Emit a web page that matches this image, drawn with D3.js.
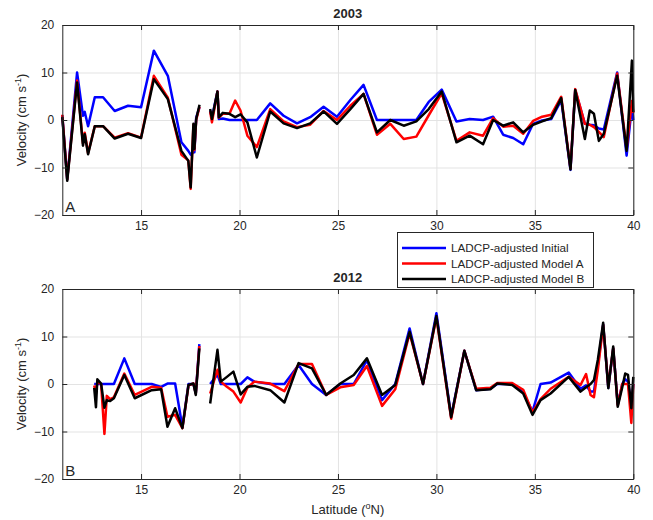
<!DOCTYPE html>
<html><head><meta charset="utf-8">
<script src="https://cdn.jsdelivr.net/npm/d3@7"></script>
<style>
body{margin:0;background:#fff}
svg{display:block}
text{font-family:"Liberation Sans",Arial,Helvetica,sans-serif;fill:#262626}
</style>
</head><body><div id="chart"></div>
<script>
// ---------- DATA ----------
const seriesNames = ["LADCP-adjusted Initial", "LADCP-adjusted Model A", "LADCP-adjusted Model B"];
const seriesColors = ["#0000ff", "#ff0000", "#000000"];
const yTicks = [-20, -10, 0, 10, 20];
const xTicks = [15, 20, 25, 30, 35, 40];

const lat2003 = [11.0,11.25,11.75,12.05,12.14,12.31,12.65,13.07,13.66,14.34,15.0,15.65,16.36,17.05,17.40,17.52,17.66,17.71,17.80,17.97,18.25,
  18.51,18.60,18.88,18.95,19.15,19.49,19.78,20.05,20.40,20.88,21.56,22.24,22.92,23.59,24.27,24.95,25.63,26.30,26.98,27.66,28.34,28.98,29.61,30.27,
  31.02,31.69,32.37,32.88,33.39,33.90,34.41,34.91,35.37,35.83,36.34,36.81,37.05,37.54,37.79,38.00,38.25,38.50,39.18,39.66,39.93,40.00];
const initial2003 = [1.0,-12.5,10.0,0.9,1.7,-1.3,4.8,4.8,1.9,3.0,2.7,14.6,9.3,-4.7,-6.5,-7.3,-6.8,-6.8,0.5,2.7,null,
  2.0,0.5,6.0,0.2,0.3,0.0,0.0,0.0,0.0,0.0,3.5,0.9,-0.7,0.6,2.8,0.7,4.2,7.4,0.0,0.0,0.0,0.0,3.8,6.4,
  -0.3,0.2,0.0,0.7,-3.1,-3.8,-5.1,-0.8,-0.1,0.2,4.2,-10.5,6.3,-0.8,-1.0,-1.1,-1.8,-2.0,10.0,-7.5,3.0,0.0];
const modelA2003 = [1.1,-12.5,8.3,-5.0,-2.7,-7.0,-1.3,-1.3,-3.7,-2.8,-3.7,9.3,4.7,-7.3,-8.5,-14.5,-1.0,-6.3,0.0,2.8,null,
  1.8,-0.5,6.0,0.5,1.3,1.3,4.1,2.0,-3.3,-5.7,2.3,-0.3,-1.5,-1.0,1.9,0.0,3.0,5.5,-3.1,-0.8,-4.0,-3.5,1.0,5.6,
  -4.4,-2.6,-3.3,0.4,-1.4,-1.2,-2.9,-0.2,0.7,1.1,4.9,-10.2,6.5,-0.8,-1.0,-1.5,-2.5,-3.6,9.8,-6.0,4.0,1.5];
const modelB2003 = [0.6,-12.8,7.9,-5.4,-3.0,-7.2,-1.3,-1.3,-3.9,-2.9,-3.8,8.6,4.4,-6.5,-8.6,-14.2,-0.8,-6.1,0.2,3.2,null,
  2.3,0.2,6.0,0.6,1.5,1.3,0.6,1.2,-0.5,-7.9,1.8,-0.7,-1.7,-0.7,1.8,-0.8,2.3,5.5,-2.6,0.0,-1.2,-0.3,2.3,6.0,
  -4.7,-3.3,-5.1,0.0,-1.2,-0.5,-2.6,-1.0,-0.3,0.4,4.6,-10.4,6.3,-4.0,2.0,1.3,-4.4,-2.9,9.3,-6.5,12.5,1.7];

const lat2012 = [12.62,12.71,12.78,12.97,13.14,13.26,13.43,13.62,14.15,14.68,15.54,16.02,16.34,16.73,17.10,17.41,17.66,17.78,17.96,18.25,
  18.51,18.88,19.05,19.36,19.69,20.06,20.40,20.75,21.56,22.28,23.00,23.68,24.40,25.12,25.80,26.47,27.24,27.91,28.64,29.32,30.00,
  30.75,31.42,32.02,32.74,33.09,33.85,34.41,34.88,35.29,35.80,36.72,37.32,37.60,37.83,38.00,38.20,38.47,38.73,38.98,39.21,39.44,39.59,39.73,39.90,40.00];
const initial2012 = [0.0,0.0,0.0,0.0,0.0,0.0,0.0,0.0,5.4,0.0,0.0,-0.6,0.1,0.1,-9.1,0.0,0.0,-2.0,8.4,null,
  0.0,2.0,0.0,0.0,0.0,0.0,1.4,0.5,0.0,0.0,4.0,0.0,-2.3,0.0,0.0,5.0,-3.4,0.0,11.7,0.0,14.9,
  -6.8,7.0,-1.3,-1.0,0.0,0.0,-1.8,-5.8,0.0,0.3,2.4,-1.0,-0.3,-1.6,-1.6,4.0,12.5,-0.8,7.5,-4.3,0.0,1.0,0.5,-5.0,0.0];
const modelA2012 = [-0.3,-2.0,0.5,0.0,-10.5,-2.5,-3.2,-2.8,2.2,-2.3,-0.6,-0.8,-6.9,-6.5,-9.3,-0.3,0.1,-2.0,8.0,null,
  -2.0,3.0,0.5,-0.6,-1.6,-3.9,-0.8,0.5,0.1,-1.5,4.2,4.2,-2.3,-0.7,-0.2,3.8,-4.6,-1.1,10.7,0.0,14.0,
  -7.3,7.0,-1.0,-0.8,0.2,0.2,-1.2,-6.0,-3.2,-1.0,1.5,-0.2,2.1,-2.3,-2.8,3.0,12.4,-0.5,7.5,-4.5,0.0,0.0,0.0,-8.2,0.0];
const modelB2012 = [-0.8,-4.9,1.0,0.1,-5.0,-3.4,-3.6,-3.0,1.9,-3.0,-1.3,-1.1,-9.0,-5.1,-9.3,-0.2,0.1,-2.3,7.5,null,
  -4.1,7.2,0.5,1.5,2.6,-2.2,-0.6,-0.4,-1.3,-3.9,4.4,3.3,-2.3,0.1,1.9,5.4,-2.3,-0.2,11.0,0.0,14.3,
  -7.0,7.0,-1.3,-1.1,0.1,-0.2,-2.0,-6.5,-3.4,-2.0,1.5,-1.6,-0.7,0.0,0.8,5.1,12.9,-0.9,7.9,-4.8,-0.7,2.2,1.9,-5.1,1.5];

// ---------- LAYOUT ----------
const W = 653, H = 520;
const L = 62.3, R = 633.3;
const panels = [
  {title: "2003", tag: "A", top: 25, bottom: 215, lat: lat2003, series: [initial2003, modelA2003, modelB2003]},
  {title: "2012", tag: "B", top: 289, bottom: 479, lat: lat2012, series: [initial2012, modelA2012, modelB2012]}
];
const axisColor = "#262626";
const gridColor = "#e3e3e3";

const svg = d3.select("#chart").append("svg").attr("width", W).attr("height", H);
svg.append("rect").attr("width", W).attr("height", H).attr("fill", "#fff");

const x = d3.scaleLinear().domain([11, 40]).range([L, R]);

panels.forEach(p => {
  const y = d3.scaleLinear().domain([-20, 20]).range([p.bottom, p.top]);
  const g = svg.append("g");
  const h = p.bottom - p.top, w = R - L;

  // grid
  g.append("g").attr("transform", `translate(0,${p.bottom})`)
    .call(d3.axisBottom(x).tickValues(xTicks).tickSize(-h).tickFormat(""))
    .call(s => { s.select(".domain").remove(); s.selectAll("line").attr("stroke", gridColor).attr("stroke-width", 1); });
  g.append("g").attr("transform", `translate(${L},0)`)
    .call(d3.axisLeft(y).tickValues(yTicks).tickSize(-w).tickFormat(""))
    .call(s => { s.select(".domain").remove(); s.selectAll("line").attr("stroke", gridColor).attr("stroke-width", 1); });

  // lines
  p.series.forEach((vals, i) => {
    const data = p.lat.map((la, k) => ({x: la, y: vals[k]}));
    const line = d3.line().defined(d => d.y !== null).x(d => x(d.x)).y(d => y(d.y));
    g.append("path").datum(data).attr("d", line)
      .attr("fill", "none").attr("stroke", seriesColors[i]).attr("stroke-width", 2.5)
      .attr("stroke-linejoin", "round");
  });

  // axes with inward ticks
  const bottomAx = g.append("g").attr("transform", `translate(0,${p.bottom})`)
    .call(d3.axisBottom(x).tickValues(xTicks).tickSize(-5).tickPadding(6).tickSizeOuter(0));
  const topAx = g.append("g").attr("transform", `translate(0,${p.top})`)
    .call(d3.axisTop(x).tickValues(xTicks).tickSize(-5).tickFormat("").tickSizeOuter(0));
  const leftAx = g.append("g").attr("transform", `translate(${L},0)`)
    .call(d3.axisLeft(y).tickValues(yTicks).tickSize(-5).tickPadding(8).tickSizeOuter(0));
  const rightAx = g.append("g").attr("transform", `translate(${R},0)`)
    .call(d3.axisRight(y).tickValues(yTicks).tickSize(-5).tickFormat("").tickSizeOuter(0));
  [bottomAx, topAx, leftAx, rightAx].forEach(a => {
    a.select(".domain").attr("stroke", axisColor).attr("stroke-width", 1);
    a.selectAll("line").attr("stroke", axisColor);
    a.selectAll("text").attr("font-size", 12).attr("fill", axisColor)
      .style("font-family", '"Liberation Sans",Arial,sans-serif');
  });

  // title
  g.append("text").attr("x", (L + R) / 2).attr("y", p.top - 7).attr("text-anchor", "middle")
    .attr("font-size", 13).attr("font-weight", "bold").attr("fill", "#000").text(p.title);
  // panel tag
  g.append("text").attr("x", L + 3).attr("y", p.bottom - 3).attr("font-size", 15).attr("fill", "#000").text(p.tag);
  // y label
  const yl = g.append("text").attr("transform", `translate(26,${(p.top + p.bottom) / 2}) rotate(-90)`)
    .attr("text-anchor", "middle").attr("font-size", 13).attr("fill", axisColor);
  yl.append("tspan").text("Velocity (cm s");
  yl.append("tspan").attr("font-size", 9).attr("dy", -5).text("-1");
  yl.append("tspan").attr("dy", 5).text(")");
});

// x label
const xl = svg.append("text").attr("x", (L + R) / 2).attr("y", 514).attr("text-anchor", "middle")
  .attr("font-size", 13).attr("fill", axisColor);
xl.append("tspan").text("Latitude (");
xl.append("tspan").attr("font-size", 9).attr("dy", -5).text("o");
xl.append("tspan").attr("dy", 5).text("N)");

// legend
const lg = svg.append("g");
lg.append("rect").attr("x", 397.5).attr("y", 232.5).attr("width", 196).attr("height", 55)
  .attr("fill", "#fff").attr("stroke", axisColor).attr("stroke-width", 1);
seriesNames.forEach((name, i) => {
  const cy = 248 + i * 15.5;
  lg.append("line").attr("x1", 402).attr("x2", 446).attr("y1", cy).attr("y2", cy)
    .attr("stroke", seriesColors[i]).attr("stroke-width", 2.5);
  lg.append("text").attr("x", 451).attr("y", cy + 4.2).attr("font-size", 11.7).attr("fill", "#000").text(name);
});
</script>
</body></html>
